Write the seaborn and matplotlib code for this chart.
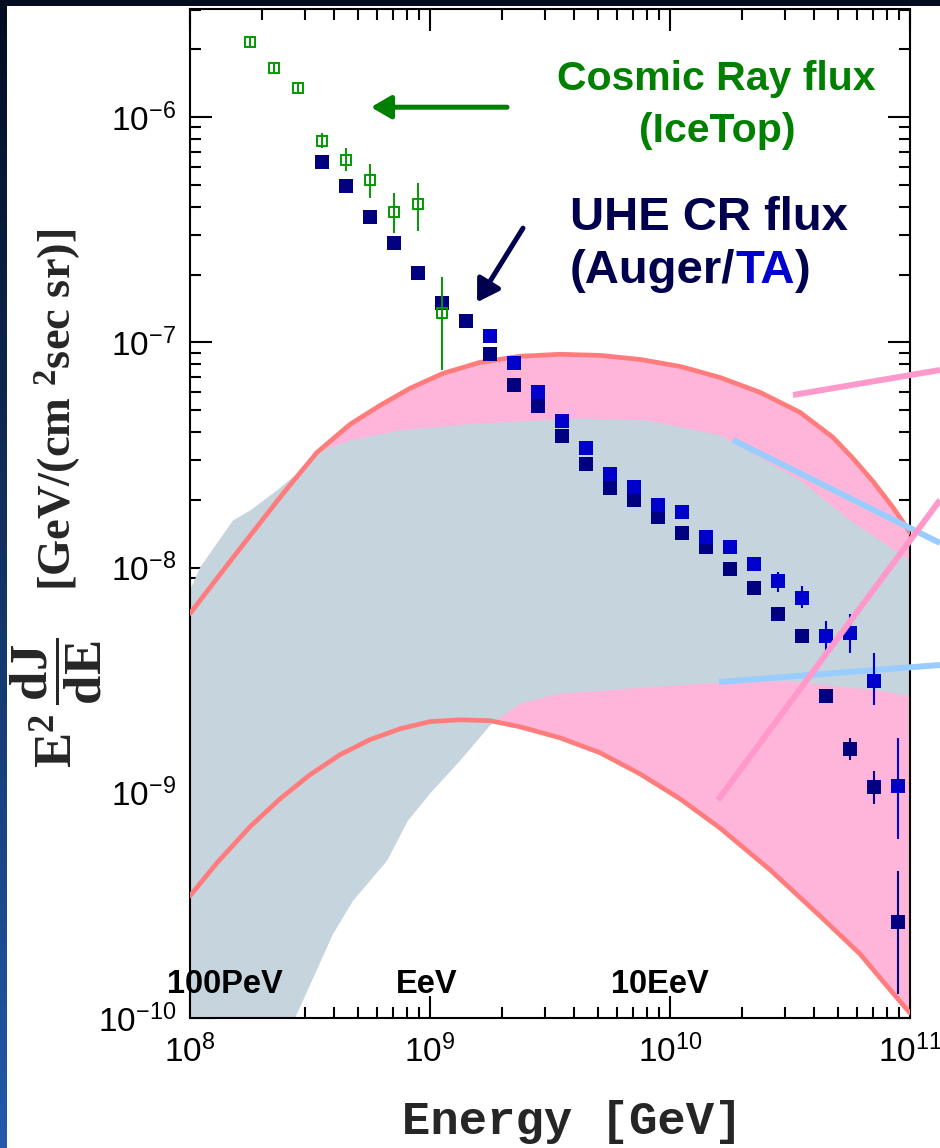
import numpy as np
import matplotlib
matplotlib.use("Agg")
import matplotlib.pyplot as plt
import seaborn as sns
from matplotlib.patches import Rectangle
from matplotlib.ticker import LogLocator, LogFormatterSciNotation, NullFormatter

# ---------------------------------------------------------------- data
# IceTop cosmic-ray flux, E^2 dJ/dE [GeV cm^-2 s^-1 sr^-1] vs log10(E/GeV)
icetop_log_e = [8.25, 8.35, 8.45, 8.55, 8.65, 8.75, 8.85, 8.95, 9.05]
icetop_flux = [2.15e-6, 1.65e-6, 1.35e-6, 7.8e-7, 6.44e-7, 5.25e-7, 3.79e-7, 4.1e-7, 1.35e-7]
icetop_low = [2.05e-6, 1.57e-6, 1.28e-6, 7.3e-7, 5.75e-7, 4.36e-7, 3.05e-7, 3.11e-7, 7.5e-8]
icetop_high = [2.26e-6, 1.74e-6, 1.42e-6, 8.5e-7, 7.27e-7, 6.18e-7, 4.6e-7, 5.09e-7, 1.95e-7]

# Pierre Auger Observatory spectrum
auger_log_e = [8.55, 8.65, 8.75, 8.85, 8.95, 9.05, 9.15, 9.25, 9.35, 9.45, 9.55, 9.65,
               9.75, 9.85, 9.95, 10.05, 10.15, 10.25, 10.35, 10.45, 10.55, 10.65,
               10.75, 10.85, 10.95]
auger_flux = [6.31e-7, 4.93e-7, 3.6e-7, 2.75e-7, 2.03e-7, 1.49e-7, 1.25e-7, 8.85e-8,
              6.44e-8, 5.2e-8, 3.82e-8, 2.87e-8, 2.25e-8, 1.99e-8, 1.67e-8, 1.43e-8,
              1.23e-8, 9.9e-9, 8.15e-9, 6.25e-9, 4.99e-9, 2.7e-9, 1.57e-9, 1.06e-9,
              2.67e-10]
auger_err_log_e = [10.75, 10.85, 10.95]
auger_err_low = [1.4e-9, 8.93e-10, 1.28e-10]
auger_err_high = [1.75e-9, 1.25e-9, 4.5e-10]

# Telescope Array spectrum
ta_log_e = [9.25, 9.35, 9.45, 9.55, 9.65, 9.75, 9.85, 9.95, 10.05, 10.15, 10.25,
            10.35, 10.45, 10.55, 10.65, 10.75, 10.85, 10.95]
ta_flux = [1.07e-7, 8.07e-8, 6.0e-8, 4.46e-8, 3.41e-8, 2.59e-8, 2.29e-8, 1.89e-8,
           1.76e-8, 1.37e-8, 1.24e-8, 1.04e-8, 8.75e-9, 7.36e-9, 4.99e-9, 5.14e-9,
           3.15e-9, 1.07e-9]
ta_err_log_e = [10.45, 10.55, 10.65, 10.75, 10.85, 10.95]
ta_err_low = [7.75e-9, 6.58e-9, 4.19e-9, 4.19e-9, 2.46e-9, 6.25e-10]
ta_err_high = [9.6e-9, 8.3e-9, 5.8e-9, 6.25e-9, 4.19e-9, 1.75e-9]

# Cosmogenic neutrino band (pink): upper and lower model curves, log10 values
nu_up_log_e = [8.0, 8.179, 8.388, 8.529, 8.667, 8.792, 8.917, 9.054, 9.208, 9.375,
               9.542, 9.708, 9.875, 10.042, 10.208, 10.375, 10.542, 10.679, 10.763,
               10.846, 10.929, 11.0]
nu_up_log_f = [-8.204, -7.956, -7.671, -7.489, -7.364, -7.280, -7.204, -7.138, -7.089,
               -7.062, -7.053, -7.058, -7.076, -7.107, -7.156, -7.222, -7.311, -7.422,
               -7.516, -7.618, -7.733, -7.844]
nu_low_log_e = [8.0, 8.1125, 8.25, 8.375, 8.5, 8.625, 8.75, 8.875, 9.0, 9.125, 9.25,
                9.375, 9.542, 9.708, 9.875, 10.042, 10.208, 10.417, 10.625, 10.792,
                10.904, 11.0]
nu_low_log_f = [-9.458, -9.311, -9.151, -9.027, -8.920, -8.831, -8.764, -8.716, -8.684,
                -8.676, -8.680, -8.707, -8.756, -8.822, -8.916, -9.027, -9.156, -9.342,
                -9.547, -9.716, -9.858, -9.978]

# Grey model band: upper edge (left to right) and lower edge (right to left)
grey_top_log_e = [8.0, 8.042, 8.179, 8.25, 8.3625, 8.4375, 8.529, 8.667, 8.875, 9.208,
                  9.625, 9.904, 10.208, 10.542, 10.75, 11.0]
grey_top_log_f = [-8.102, -8.0, -7.791, -7.747, -7.658, -7.591, -7.489, -7.436, -7.391,
                  -7.36, -7.338, -7.347, -7.413, -7.613, -7.791, -7.969]
grey_bot_log_e = [11.0, 10.875, 10.458, 10.125, 9.708, 9.542, 9.375, 9.25, 9.125, 9.0,
                  8.908, 8.821, 8.679, 8.596, 8.417, 8.0]
grey_bot_log_f = [-8.573, -8.547, -8.502, -8.516, -8.547, -8.560, -8.604, -8.702, -8.858,
                  -9.004, -9.124, -9.302, -9.48, -9.627, -10.05, -10.05]

# ---------------------------------------------------------------- style
GREEN = "#009a00"
GREEN_TXT = "#008000"
NAVY = "#000080"
NAVY_TXT = "#00004e"
TA_BLUE = "#0000cd"
PINK_FILL = "#ffb5d9"
RED_LINE = "#ff7c7c"
GREY_FILL = "#c6d4de"
PINK_LINE = "#ff99cc"
BLUE_LINE = "#99ccff"

sns.set_theme(style="ticks")
plt.rcParams["font.family"] = ["Liberation Sans", "DejaVu Sans"]
plt.rcParams["mathtext.default"] = "regular"
plt.rcParams["axes.linewidth"] = 1.5

FIG_W, FIG_H = 940, 1148
fig = plt.figure(figsize=(FIG_W / 100, FIG_H / 100), dpi=100)


def fx(px):
    return px / FIG_W


def fy(py):
    return 1 - py / FIG_H


# slide background: dark blue frame on the top and left edges
bg = fig.add_axes([0, 0, 1, 1], zorder=-10)
grad = np.linspace(0, 1, 256)[:, None]
top_c = np.array([3, 12, 32]) / 255
bot_c = np.array([35, 90, 170]) / 255
img = top_c[None, None, :] * (1 - grad[:, :, None]) + bot_c[None, None, :] * grad[:, :, None]
bg.imshow(img, extent=[0, 1, 0, 1], aspect="auto", origin="upper")
bg.add_patch(Rectangle((fx(7), 0), 1, fy(6), color="white", lw=0))
bg.set_xlim(0, 1)
bg.set_ylim(0, 1)
bg.axis("off")

ax = fig.add_axes([fx(190), fy(1018), 720 / FIG_W, 1009 / FIG_H])
ax.set_xscale("log")
ax.set_yscale("log")


def p10(v):
    return np.power(10.0, np.asarray(v, dtype=float))


# pink neutrino band and grey band
ax.fill(np.concatenate([p10(nu_up_log_e), p10(nu_low_log_e)[::-1]]),
        np.concatenate([p10(nu_up_log_f), p10(nu_low_log_f)[::-1]]),
        color=PINK_FILL, lw=0, zorder=1)
ax.fill(np.concatenate([p10(grey_top_log_e), p10(grey_bot_log_e)]),
        np.concatenate([p10(grey_top_log_f), p10(grey_bot_log_f)]),
        color=GREY_FILL, lw=0, zorder=2)

sns.lineplot(x=p10(nu_up_log_e), y=p10(nu_up_log_f), ax=ax, color=RED_LINE, lw=3.4,
             sort=False, estimator=None, zorder=3)
sns.lineplot(x=p10(nu_low_log_e), y=p10(nu_low_log_f), ax=ax, color=RED_LINE, lw=3.4,
             sort=False, estimator=None, zorder=3)


# leader lines running off the right edge (axes-fraction coordinates)
def ax_pt(px, py):
    return (px - 190) / 720, (1018 - py) / 1009


for (p0, p1, col, z) in [((793, 395), (940, 370), PINK_LINE, 8),
                         ((733, 440), (940, 543), BLUE_LINE, 4),
                         ((719, 682), (940, 665), BLUE_LINE, 4),
                         ((718, 800), (940, 500), PINK_LINE, 8)]:
    a0, a1 = ax_pt(*p0), ax_pt(*p1)
    ax.plot([a0[0], a1[0]], [a0[1], a1[1]], transform=ax.transAxes, color=col,
            lw=4.3, solid_capstyle="butt", clip_on=False, zorder=z)

# error bars of the UHE CR spectra
ax.vlines(p10(auger_err_log_e), auger_err_low, auger_err_high, color=NAVY, lw=1.5, zorder=5)
ax.vlines(p10(ta_err_log_e), ta_err_low, ta_err_high, color=TA_BLUE, lw=1.5, zorder=5)

sns.scatterplot(x=p10(auger_log_e), y=auger_flux, ax=ax, marker="s", s=100,
                color=NAVY, linewidth=0, zorder=6)
sns.scatterplot(x=p10(ta_log_e), y=ta_flux, ax=ax, marker="s", s=100,
                color=TA_BLUE, linewidth=0, zorder=6)

ice_f = np.array(icetop_flux)
ax.errorbar(p10(icetop_log_e), ice_f,
            yerr=[ice_f - np.array(icetop_low), np.array(icetop_high) - ice_f],
            fmt="s", ms=7.8, mfc="none", mec=GREEN, mew=1.4, ecolor=GREEN,
            elinewidth=1.4, capsize=0, zorder=7)

# arrows pointing to the data sets
ax.annotate("", xy=(p10(8.754), p10(-5.956)), xytext=(p10(9.321), p10(-5.956)),
            arrowprops=dict(arrowstyle="-|>,head_length=0.6,head_width=0.35",
                            mutation_scale=20, lw=3.6, color=GREEN_TXT,
                            shrinkA=0, shrinkB=0), zorder=9)
ax.annotate("", xy=(p10(9.196), p10(-6.822)), xytext=(p10(9.3875), p10(-6.493)),
            arrowprops=dict(arrowstyle="-|>,head_length=0.65,head_width=0.4",
                            mutation_scale=20, lw=3.6, color=NAVY_TXT,
                            shrinkA=0, shrinkB=0), zorder=9)

# axes, ticks
ax.set_xlim(1e8, 1e11)
ax.set_ylim(1e-10, p10(-5.52))
ax.xaxis.set_major_locator(LogLocator(base=10, numticks=10))
ax.yaxis.set_major_locator(LogLocator(base=10, numticks=10))
ax.xaxis.set_minor_locator(LogLocator(base=10, subs=np.arange(2, 10), numticks=20))
ax.yaxis.set_minor_locator(LogLocator(base=10, subs=np.arange(2, 10), numticks=20))
ax.xaxis.set_major_formatter(LogFormatterSciNotation())
ax.yaxis.set_major_formatter(LogFormatterSciNotation())
ax.xaxis.set_minor_formatter(NullFormatter())
ax.yaxis.set_minor_formatter(NullFormatter())
ax.tick_params(which="both", direction="in", top=True, right=True, width=1.5,
               colors="black", labelsize=24)
ax.tick_params(which="major", length=16)
ax.tick_params(which="minor", length=8)
ax.tick_params(axis="y", pad=10)
ax.tick_params(axis="x", pad=12)
for sp in ax.spines.values():
    sp.set_color("black")
    sp.set_linewidth(1.5)
ax.set_xlabel("")
ax.set_ylabel("")

# axis titles
fig.text(fx(572), fy(1134), "Energy [GeV]", family="Liberation Mono", weight="bold",
         fontsize=34, ha="center", va="baseline")
fig.text(fx(56), fy(703), r"$E^{2}\,\dfrac{dJ}{dE}$",
         family="Liberation Serif", weight="bold", fontsize=38, rotation=90,
         ha="center", va="center")
fig.text(fx(58), fy(410), r"[GeV/(cm $^{2}$sec sr)]",
         family="Liberation Serif", weight="bold", fontsize=33.5, rotation=90,
         ha="center", va="center")

# energy scale labels
for label, cx in [("100PeV", 225), ("EeV", 427), ("10EeV", 660)]:
    fig.text(fx(cx), fy(993), label, weight="bold", fontsize=23.5, ha="center",
             va="baseline", color="black", zorder=10)

# data set labels
fig.text(fx(716), fy(90), "Cosmic Ray flux", weight="bold", fontsize=29.5,
         color=GREEN_TXT, ha="center", va="baseline")
fig.text(fx(717), fy(142), "(IceTop)", weight="bold", fontsize=29.5,
         color=GREEN_TXT, ha="center", va="baseline")
fig.text(fx(570), fy(230), "UHE CR flux", weight="bold", fontsize=34,
         color=NAVY_TXT, ha="left", va="baseline")

renderer = fig.canvas.get_renderer()
x_cur = fx(570)
for piece, col in [("(Auger/", NAVY_TXT), ("TA", TA_BLUE), (")", NAVY_TXT)]:
    t = fig.text(x_cur, fy(283), piece, weight="bold", fontsize=34, color=col,
                 ha="left", va="baseline")
    bb = t.get_window_extent(renderer=renderer)
    x_cur = bb.x1 / fig.bbox.width

fig.savefig("out.png", dpi=100, facecolor="white")
